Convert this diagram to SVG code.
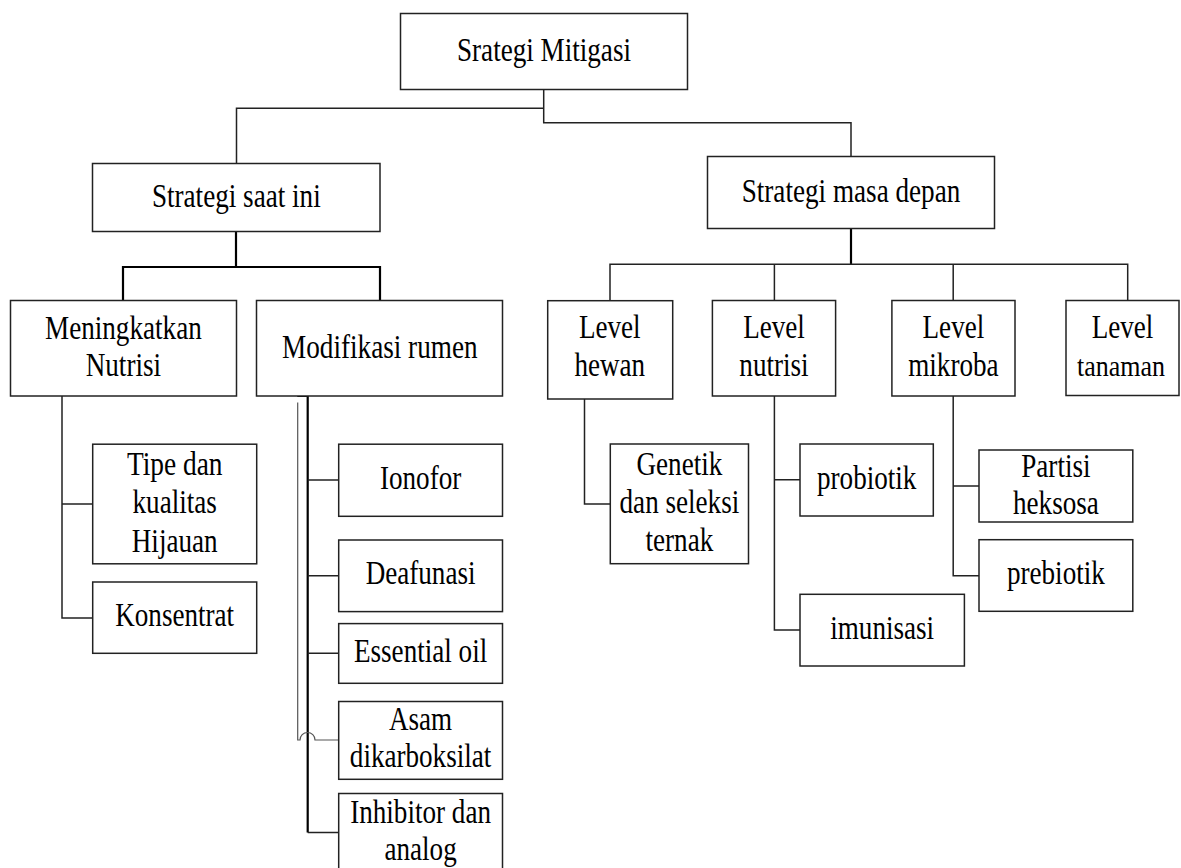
<svg xmlns="http://www.w3.org/2000/svg" width="1181" height="868" viewBox="0 0 1181 868">
<style>
.box{fill:#fff;stroke:#222;stroke-width:1.5}
.t{font-family:'Liberation Serif','Times New Roman',serif;font-size:33px;fill:#000;text-anchor:middle}
.c{fill:none;stroke:#222;stroke-width:1.5}
.ck{fill:none;stroke:#000;stroke-width:2.2}
.cl{fill:none;stroke:#555;stroke-width:1.2}
</style>
<rect width="1181" height="868" fill="#fff"/>
<g id="connectors">
<path class="c" d="M543.7 89 V122.7 H851 V156.5 M543.7 108.3 H236.5 V163.5"/>
<path class="ck" d="M236 231.5 V267 H123 V300.5 M236 267 H380 V300.5"/>
<path class="ck" d="M851 228.5 V264.3"/>
<path class="c" d="M610 300.5 V264.3 H1127.7 V300.5 M774.4 264.3 V300.5 M953.2 264.3 V300.5"/>
<path class="c" d="M62 396 V618 H92.7 M62 504 H92.7"/>
<path class="ck" d="M297.3 396 H307.7 V832.5"/>
<path class="c" d="M307.7 832.5 H338.7 M307.7 480 H338.7 M307.7 575.7 H338.7 M307.7 653.3 H338.7"/>
<path class="cl" d="M297.7 402.5 V740 H300 A7.5 7.5 0 0 1 315 740 H338.7"/>
<path class="c" d="M584.5 399 V504 H610.3"/>
<path class="c" d="M774.4 396 V630 H800 M774.4 479.7 H800"/>
<path class="c" d="M953.2 396 V575.7 H979 M953.2 486 H979"/>
</g>
<g id="n-root"><rect class="box" x="400.5" y="13.5" width="287" height="76"/><text class="t" x="544" y="61" textLength="174" lengthAdjust="spacingAndGlyphs">Srategi Mitigasi</text></g>
<g id="n-saat-ini"><rect class="box" x="92.5" y="163.5" width="287.5" height="68"/><text class="t" x="236.3" y="206.7" textLength="168.8" lengthAdjust="spacingAndGlyphs">Strategi saat ini</text></g>
<g id="n-masa-depan"><rect class="box" x="707.5" y="156.5" width="287" height="72"/><text class="t" x="851" y="201.7" textLength="218.6" lengthAdjust="spacingAndGlyphs">Strategi masa depan</text></g>
<g id="n-meningkatkan"><rect class="box" x="10.5" y="300.5" width="226" height="95.5"/><text class="t" x="123.4" y="338.8" textLength="156.7" lengthAdjust="spacingAndGlyphs">Meningkatkan</text><text class="t" x="123.4" y="376" textLength="75.4" lengthAdjust="spacingAndGlyphs">Nutrisi</text></g>
<g id="n-modifikasi"><rect class="box" x="256.5" y="300.5" width="246" height="95.5"/><text class="t" x="379.8" y="358" textLength="195.5" lengthAdjust="spacingAndGlyphs">Modifikasi rumen</text></g>
<g id="n-tipe"><rect class="box" x="92.7" y="444.2" width="164" height="119.6"/><text class="t" x="174.7" y="475" textLength="95.6" lengthAdjust="spacingAndGlyphs">Tipe dan</text><text class="t" x="174.7" y="513" textLength="84.3" lengthAdjust="spacingAndGlyphs">kualitas</text><text class="t" x="174.7" y="551.8" textLength="85.8" lengthAdjust="spacingAndGlyphs">Hijauan</text></g>
<g id="n-konsentrat"><rect class="box" x="92.7" y="582" width="164" height="71.3"/><text class="t" x="174.7" y="626" textLength="118.9" lengthAdjust="spacingAndGlyphs">Konsentrat</text></g>
<g id="n-ionofor"><rect class="box" x="338.7" y="444.2" width="163.8" height="72.1"/><text class="t" x="420.6" y="489" textLength="81.3" lengthAdjust="spacingAndGlyphs">Ionofor</text></g>
<g id="n-deafunasi"><rect class="box" x="338.7" y="540" width="163.8" height="71.6"/><text class="t" x="420.6" y="584.4" textLength="109.9" lengthAdjust="spacingAndGlyphs">Deafunasi</text></g>
<g id="n-essential"><rect class="box" x="338.7" y="623.6" width="163.8" height="59.7"/><text class="t" x="420.6" y="661.6" textLength="133.3" lengthAdjust="spacingAndGlyphs">Essential oil</text></g>
<g id="n-asam"><rect class="box" x="338.7" y="701.5" width="163.8" height="77.8"/><text class="t" x="420.6" y="730" textLength="63.2" lengthAdjust="spacingAndGlyphs">Asam</text><text class="t" x="420.6" y="767.4" textLength="141.5" lengthAdjust="spacingAndGlyphs">dikarboksilat</text></g>
<g id="n-inhibitor"><rect class="box" x="338.7" y="793.5" width="163.8" height="90"/><text class="t" x="420.6" y="822.5" textLength="140.8" lengthAdjust="spacingAndGlyphs">Inhibitor dan</text><text class="t" x="420.6" y="860" textLength="72.2" lengthAdjust="spacingAndGlyphs">analog</text></g>
<g id="n-hewan"><rect class="box" x="547.7" y="300.7" width="125" height="98.3"/><text class="t" x="609.8" y="338.3" textLength="61.7" lengthAdjust="spacingAndGlyphs">Level</text><text class="t" x="609.8" y="376" textLength="70.7" lengthAdjust="spacingAndGlyphs">hewan</text></g>
<g id="n-nutrisi"><rect class="box" x="712.4" y="300.5" width="123.2" height="95.5"/><text class="t" x="774" y="338.3" textLength="61.7" lengthAdjust="spacingAndGlyphs">Level</text><text class="t" x="774" y="376" textLength="69.3" lengthAdjust="spacingAndGlyphs">nutrisi</text></g>
<g id="n-mikroba"><rect class="box" x="891.9" y="300.5" width="123.1" height="95.5"/><text class="t" x="953.4" y="338.3" textLength="61.7" lengthAdjust="spacingAndGlyphs">Level</text><text class="t" x="953.4" y="376" textLength="90.3" lengthAdjust="spacingAndGlyphs">mikroba</text></g>
<g id="n-tanaman"><rect class="box" x="1066" y="300.5" width="113" height="95"/><text class="t" x="1122.5" y="338.3" textLength="61.7" lengthAdjust="spacingAndGlyphs">Level</text><text class="t" x="1121" y="376" font-size="30" style="font-size:30px" textLength="88" lengthAdjust="spacingAndGlyphs">tanaman</text></g>
<g id="n-genetik"><rect class="box" x="610.3" y="444" width="138.2" height="119.7"/><text class="t" x="679.4" y="474.7" textLength="85.8" lengthAdjust="spacingAndGlyphs">Genetik</text><text class="t" x="679.4" y="512.7" textLength="119.7" lengthAdjust="spacingAndGlyphs">dan seleksi</text><text class="t" x="679.4" y="550.7" textLength="67.7" lengthAdjust="spacingAndGlyphs">ternak</text></g>
<g id="n-probiotik"><rect class="box" x="800" y="444" width="133.3" height="72"/><text class="t" x="866.7" y="488.7" textLength="99.4" lengthAdjust="spacingAndGlyphs">probiotik</text></g>
<g id="n-imunisasi"><rect class="box" x="800" y="594.3" width="164.4" height="71.7"/><text class="t" x="882.2" y="639.3" textLength="103.9" lengthAdjust="spacingAndGlyphs">imunisasi</text></g>
<g id="n-partisi"><rect class="box" x="979" y="450" width="153.8" height="72"/><text class="t" x="1055.9" y="476.7" textLength="69.3" lengthAdjust="spacingAndGlyphs">Partisi</text><text class="t" x="1055.9" y="514" textLength="85.8" lengthAdjust="spacingAndGlyphs">heksosa</text></g>
<g id="n-prebiotik"><rect class="box" x="979" y="539.7" width="153.8" height="71.6"/><text class="t" x="1055.9" y="584" textLength="97.9" lengthAdjust="spacingAndGlyphs">prebiotik</text></g>
</svg>
